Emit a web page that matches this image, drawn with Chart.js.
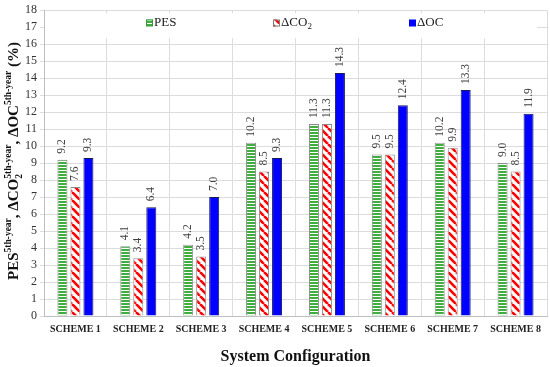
<!DOCTYPE html>
<html>
<head>
<meta charset="utf-8">
<script src="https://cdn.jsdelivr.net/npm/chart.js@4/dist/chart.umd.min.js"></script>
<style>
  html, body { margin: 0; padding: 0; background: #fff; }
  #wrap { width: 550px; height: 367px; }
</style>
</head>
<body>
<div id="wrap"><canvas id="chart" width="550" height="367"></canvas></div>
<script>
const schemes = ["SCHEME 1", "SCHEME 2", "SCHEME 3", "SCHEME 4", "SCHEME 5", "SCHEME 6", "SCHEME 7", "SCHEME 8"];
const pes = [9.2, 4.1, 4.2, 10.2, 11.3, 9.5, 10.2, 9.0];
const dco2 = [7.6, 3.4, 3.5, 8.5, 11.3, 9.5, 9.9, 8.5];
const doc = [9.3, 6.4, 7.0, 9.3, 14.3, 12.4, 13.3, 11.9];
const yTicks = [0, 1, 2, 3, 4, 5, 6, 7, 8, 9, 10, 11, 12, 13, 14, 15, 16, 17, 18];

const SERIF = "'Liberation Serif', 'DejaVu Serif', serif";

const makeStripes = () => {
  const c = document.createElement("canvas");
  c.width = 3; c.height = 3;
  const g = c.getContext("2d");
  g.fillStyle = "#fff"; g.fillRect(0, 0, 3, 3);
  g.fillStyle = "#3fae3f"; g.fillRect(0, 0, 3, 2);
  return g.createPattern(c, "repeat");
};

const makeDiag = () => {
  const c = document.createElement("canvas");
  c.width = 8; c.height = 8;
  const g = c.getContext("2d");
  g.fillStyle = "#fff"; g.fillRect(0, 0, 8, 8);
  g.strokeStyle = "#ff0000"; g.lineWidth = 2.6;
  [-8, 0, 8].forEach((o) => {
    g.beginPath(); g.moveTo(o, 0); g.lineTo(o + 8, 8); g.stroke();
  });
  return g.createPattern(c, "repeat");
};

const greenPat = makeStripes();
const redPat = makeDiag();

// value labels, rotated, above bars
const valueLabels = {
  id: "valueLabels",
  afterDatasetsDraw(chart) {
    const ctx = chart.ctx;
    ctx.save();
    ctx.font = "11.5px " + SERIF;
    ctx.fillStyle = "#404040";
    ctx.textAlign = "left";
    ctx.textBaseline = "middle";
    chart.data.datasets.forEach((ds, i) => {
      chart.getDatasetMeta(i).data.forEach((bar, j) => {
        ctx.save();
        ctx.translate(bar.x, bar.y - 6);
        ctx.rotate(-Math.PI / 2);
        ctx.fillText(ds.data[j].toFixed(1), 0, 0);
        ctx.restore();
      });
    });
    ctx.restore();
  },
};

// legend in a white box over the top of the plot
const topLegend = {
  id: "topLegend",
  beforeDatasetsDraw(chart) {
    const ctx = chart.ctx;
    const a = chart.chartArea;
    ctx.save();
    ctx.fillStyle = "#fff";
    ctx.fillRect(a.left + 1, a.top + 3, 492, 25);
    ctx.restore();
  },
  afterDraw(chart) {
    const ctx = chart.ctx;
    const y = 23;
    ctx.save();
    ctx.font = "13px " + SERIF;
    ctx.fillStyle = "#222";
    ctx.textBaseline = "middle";
    // PES
    ctx.fillStyle = greenPat; ctx.fillRect(146, y - 3.5, 7, 7);
    ctx.strokeStyle = "#3a9a3a"; ctx.lineWidth = 1; ctx.strokeRect(146.5, y - 3, 6, 6);
    ctx.fillStyle = "#222"; ctx.fillText("PES", 154, y);
    // dCO2
    ctx.fillStyle = redPat; ctx.fillRect(273, y - 3.5, 7, 7);
    ctx.strokeStyle = "#808080"; ctx.strokeRect(273.5, y - 3, 6, 6);
    ctx.fillStyle = "#222"; ctx.fillText("\u0394CO", 281, y);
    let w = ctx.measureText("\u0394CO").width;
    ctx.font = "9px " + SERIF;
    ctx.fillText("2", 281 + w, y + 4);
    // dOC
    ctx.font = "13px " + SERIF;
    ctx.fillStyle = "#0000ff"; ctx.fillRect(409, y - 3.5, 7, 7);
    ctx.fillStyle = "#222"; ctx.fillText("\u0394OC", 417, y);
    ctx.restore();
  },
};

// axis titles with super/subscripts
const axisTitles = {
  id: "axisTitles",
  afterDraw(chart) {
    const ctx = chart.ctx;
    const a = chart.chartArea;
    ctx.save();
    ctx.fillStyle = "#111";
    ctx.textBaseline = "alphabetic";
    ctx.font = "bold 16px " + SERIF;
    ctx.textAlign = "center";
    ctx.fillText("System Configuration", (a.left + a.right) / 2, 361);

    const big = "bold 15px " + SERIF;
    const small = "bold 9.5px " + SERIF;
    const parts = [
      ["PES", big, 0], ["5th-year", small, -7],
      [", \u0394CO", big, 0], ["2|5th-year", small, 0],
      [", \u0394OC", big, 0], ["5th-year", small, -7],
      [" (%)", big, 0],
    ];
    let total = 0;
    const widths = parts.map(([t, f]) => {
      ctx.font = f;
      const s = t.includes("|") ? Math.max(...t.split("|").map((x) => ctx.measureText(x).width)) : ctx.measureText(t).width;
      total += s;
      return s;
    });
    ctx.translate(18, 161);
    ctx.rotate(-Math.PI / 2);
    ctx.textAlign = "left";
    let x = -total / 2;
    parts.forEach(([t, f, dy], i) => {
      ctx.font = f;
      if (t.includes("|")) {
        const [sub, sup] = t.split("|");
        ctx.fillText(sub, x, 3.5);
        ctx.fillText(sup, x, -7);
      } else {
        ctx.fillText(t, x, dy);
      }
      x += widths[i];
    });
    ctx.restore();
  },
};

new Chart(document.getElementById("chart"), {
  type: "bar",
  data: {
    labels: schemes,
    datasets: [
      { label: "PES", data: pes, backgroundColor: greenPat, borderColor: "#8a8a8a", borderWidth: 1 },
      { label: "\u0394CO2", data: dco2, backgroundColor: redPat, borderColor: "#8a8a8a", borderWidth: 1 },
      { label: "\u0394OC", data: doc, backgroundColor: "#0000ff", borderColor: "#1a1a5a", borderWidth: 1 },
    ],
  },
  options: {
    responsive: false,
    animation: false,
    devicePixelRatio: 1,
    layout: { padding: { top: 7, right: 3, left: 0, bottom: 0 } },
    categoryPercentage: 0.62,
    barPercentage: 0.77,
    plugins: { legend: { display: false }, tooltip: { enabled: false } },
    scales: {
      x: {
        grid: { color: "#dcdcdc", drawTicks: false },
        border: { color: "#bfbfbf" },
        ticks: { color: "#222", font: { family: SERIF, size: 10, weight: "bold" }, padding: 7, maxRotation: 0 },
        afterFit: (s) => { s.height = 51; },
      },
      y: {
        min: 0,
        max: 18,
        afterBuildTicks: (s) => { s.ticks = yTicks.map((v) => ({ value: v })); },
        grid: { color: "#dcdcdc", tickLength: 4 },
        border: { color: "#bfbfbf" },
        ticks: { color: "#333", font: { family: SERIF, size: 12 }, padding: 3, autoSkip: false },
        afterFit: (s) => { s.width = 44; },
      },
    },
  },
  plugins: [topLegend, valueLabels, axisTitles],
});
</script>
</body>
</html>
